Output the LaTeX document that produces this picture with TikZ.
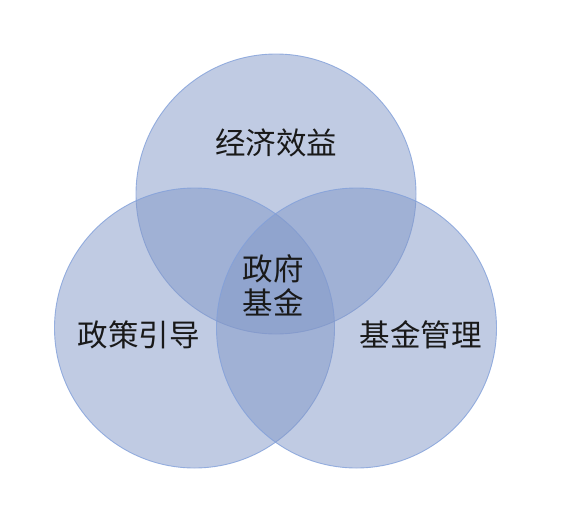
\documentclass[tikz,border=0pt]{standalone}
\usepackage{fontspec}
\setmainfont{Noto Sans CJK SC}
\definecolor{vennfill}{RGB}{129,151,199}
\definecolor{vennedge}{RGB}{130,160,218}

\tikzset{
  venn/.style={circle, minimum size=280pt, inner sep=0pt, fill=vennfill, fill opacity=0.5,
               draw=vennedge, draw opacity=0.8, line width=0.9pt},
  lbl/.style={font=\fontsize{30.5}{34}\selectfont, text=black!90, align=center, inner sep=0pt}
}

\begin{document}
\begin{tikzpicture}[x=1pt, y=-1pt]
  \useasboundingbox (0,0) rectangle (561,517);
  % three overlapping circles
  \foreach \n/\x/\y in {eco/276/194, pol/194.5/328, man/356.5/328}{
    \node[venn] (\n) at (\x,\y) {};
  }
  \node[lbl] (ecotext) at ([yshift=51pt]eco.center) {经济效益};
  \node[lbl] (poltext) at ([xshift=-56pt,yshift=-7pt]pol.center) {政策引导};
  \node[lbl] (mantext) at ([xshift=64pt,yshift=-7pt]man.center) {基金管理};
  \node[lbl] (core) at (273,285) {政府\\基金};
\end{tikzpicture}
\end{document}
